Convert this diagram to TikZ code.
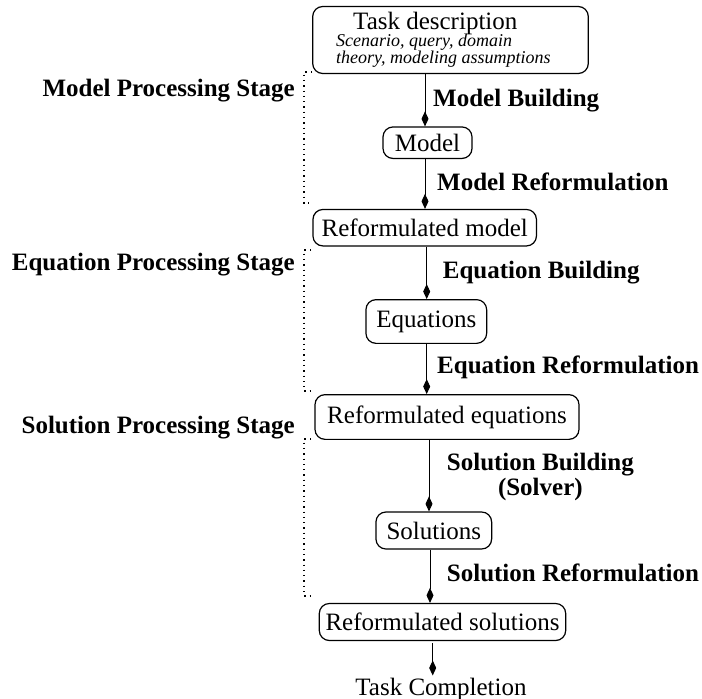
\documentclass[tikz,border=0pt]{standalone}
\usepackage{fontspec}
\setmainfont{Liberation Serif}
\usetikzlibrary{arrows.meta}

\tikzset{
    stagebox/.style={draw, rounded corners=10pt, line width=1.2pt, inner sep=0pt,
        font=\fontsize{25}{27}\selectfont},
    flow/.style={line width=1pt, -{Kite[length=15pt,width=7pt,inset=7.5pt]}},
    steplabel/.style={anchor=base west, inner sep=0pt, font=\fontsize{25}{25}\selectfont\bfseries, align=center},
    stagelabel/.style={anchor=base east, inner sep=0pt, font=\fontsize{25}{25}\selectfont\bfseries},
    stagebracket/.style={line width=1.3pt, dash pattern=on 1.3pt off 4pt},
}

\begin{document}
\begin{tikzpicture}[x=1pt,y=-1pt]
    \useasboundingbox (0,0) rectangle (702,699);
    \node[stagebox, minimum width=275.6pt, minimum height=67pt] (task) at (450.5,40) {};
    \node[anchor=base west, inner sep=0pt, font=\fontsize{25}{25}\selectfont] (tasktitle) at (353,29.3) {Task description};
    \node[anchor=base west, inner sep=0pt, align=left, font=\fontsize{18}{16.6}\selectfont\itshape] (taskinfo) at (336,63.3) {Scenario, query, domain\\theory, modeling assumptions};
    \node[stagebox, minimum width=89pt, minimum height=31.5pt] (model) at (427.5,142.7) {Model};
    \node[stagebox, minimum width=223.5pt, minimum height=36.5pt] (refmodel) at (424.7,227.7) {Reformulated model};
    \node[stagebox, minimum width=120.7pt, minimum height=43.7pt] (equations) at (426.3,321.5) {Equations};
    \node[stagebox, minimum width=264pt, minimum height=44.7pt] (refequations) at (447,417) {Reformulated equations};
    \node[stagebox, minimum width=115.7pt, minimum height=37pt] (solutions) at (433.8,530.5) {Solutions};
    \node[stagebox, minimum width=246.4pt, minimum height=37pt] (refsolutions) at (442.5,622) {Reformulated solutions};
    \node[anchor=base, inner sep=2pt, font=\fontsize{25}{25}\selectfont] (done) at (441,695) {Task Completion};

    \coordinate (x1) at (425,0);
    \coordinate (x2) at (425,0);
    \coordinate (x3) at (426.7,0);
    \coordinate (x4) at (426.7,0);
    \coordinate (x5) at (429,0);
    \coordinate (x6) at (430,0);
    \coordinate (x7) at (432.7,0);
    \draw[flow] (task.south -| x1) -- (model.north -| x1);
    \draw[flow] (model.south -| x2) -- (refmodel.north -| x2);
    \draw[flow] (refmodel.south -| x3) -- (equations.north -| x3);
    \draw[flow] (equations.south -| x4) -- (refequations.north -| x4);
    \draw[flow] (refequations.south -| x5) -- (solutions.north -| x5);
    \draw[flow] (solutions.south -| x6) -- (refsolutions.north -| x6);
    \draw[flow] ([yshift=-2pt]refsolutions.south -| x7) -- (done.north -| x7);

    \node[steplabel] (build1) at (433,106) {Model Building};
    \node[steplabel] (reform1) at (437,190) {Model Reformulation};
    \node[steplabel] (build2) at (442.7,278) {Equation Building};
    \node[steplabel] (reform2) at (437,373) {Equation Reformulation};
    \node[steplabel] (build3) at (446.7,495.5) {Solution Building\\(Solver)};
    \node[steplabel] (reform3) at (446.7,581) {Solution Reformulation};

    \node[stagelabel] (stage1) at (295,96) {Model Processing Stage};
    \node[stagelabel] (stage2) at (295,270) {Equation Processing Stage};
    \node[stagelabel] (stage3) at (295,433) {Solution Processing Stage};
    \draw[stagebracket] (312,72) -| (304,203) -- (311,203);
    \draw[stagebracket] (311,250) -| (304,391) -- (311,391);
    \draw[stagebracket] (311,439) -| (304,596) -- (311,596);
\end{tikzpicture}
\end{document}
